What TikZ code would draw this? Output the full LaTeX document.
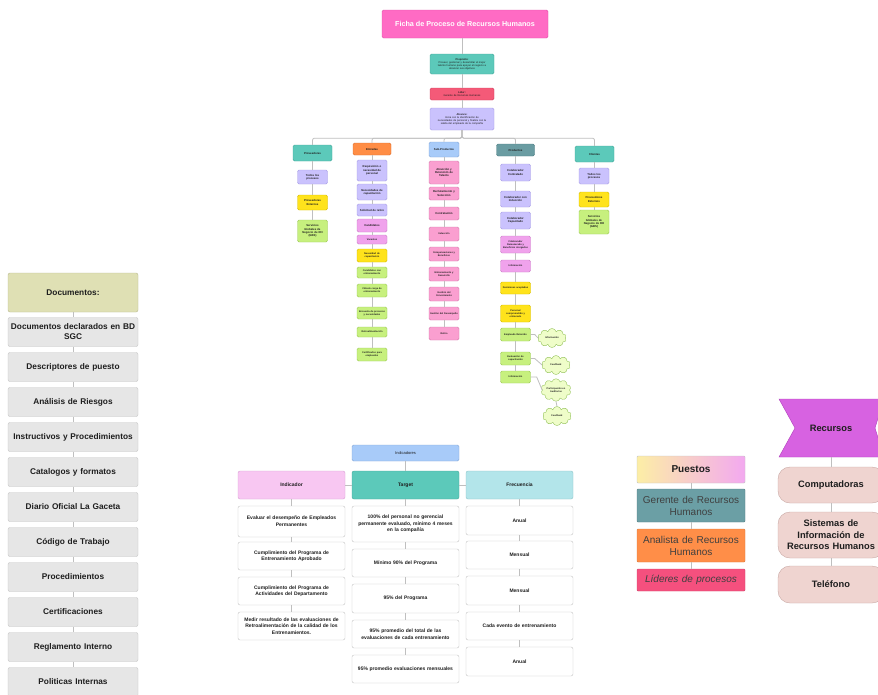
\documentclass[tikz,border=0pt]{standalone}
\usepackage{fontspec}
\setmainfont{Liberation Sans}
\usetikzlibrary{shapes.symbols}
\definecolor{lineg}{HTML}{BFBFBF}
\definecolor{cteal}{HTML}{5CC9BA}\definecolor{ctealD}{HTML}{45A99B}
\definecolor{cpink}{HTML}{FF6BC4}\definecolor{cpinkD}{HTML}{E050A8}
\definecolor{cred}{HTML}{F45A78}\definecolor{credD}{HTML}{D04060}
\definecolor{clav}{HTML}{CAC2FD}\definecolor{clavD}{HTML}{A89EE6}
\definecolor{cyel}{HTML}{FFE31C}\definecolor{cyelD}{HTML}{D6BC00}
\definecolor{cgrn}{HTML}{C7F07E}\definecolor{cgrnD}{HTML}{9DC957}
\definecolor{cvio}{HTML}{F0A2EC}\definecolor{cvioD}{HTML}{CC80C8}
\definecolor{cpnk}{HTML}{FA9FD0}\definecolor{cpnkD}{HTML}{D67CAE}
\definecolor{corg}{HTML}{FF8D45}\definecolor{corgD}{HTML}{DD7030}
\definecolor{clblue}{HTML}{A8CBF9}\definecolor{clblueD}{HTML}{85A8D8}
\definecolor{cslate}{HTML}{6A9CA2}\definecolor{cslateD}{HTML}{4F7F85}
\definecolor{colive}{HTML}{DFE0B4}\definecolor{coliveD}{HTML}{B9BA90}
\definecolor{cdoc}{HTML}{E6E6E6}\definecolor{cdocD}{HTML}{C4C4C4}
\definecolor{cphead}{HTML}{F8C7F2}\definecolor{cpheadD}{HTML}{D8A0D4}
\definecolor{ccyan}{HTML}{B3E5EA}\definecolor{ccyanD}{HTML}{8EC5CA}
\definecolor{cger}{HTML}{6B9FA5}
\definecolor{cana}{HTML}{FF8E48}
\definecolor{clid}{HTML}{F5507E}
\definecolor{crec}{HTML}{D762E1}\definecolor{crecD}{HTML}{B040BC}
\definecolor{crbox}{HTML}{EFD4D0}\definecolor{crboxD}{HTML}{C9A9A5}
\definecolor{ccloud}{HTML}{EFFDC9}\definecolor{ccloudD}{HTML}{96C45E}
\definecolor{cpl}{HTML}{FCEEA6}\definecolor{cpr}{HTML}{F3A9F0}
\definecolor{ctxt}{HTML}{1E1E1E}
\newcommand\fsz[2]{\fontsize{#1}{#2}\selectfont}
\begin{document}
\begin{tikzpicture}[x=1pt,y=-1pt,
  conn/.style={draw=lineg, line width=0.8pt},
  bx/.style={rounded corners=1.5pt, line width=0.4pt, align=center, inner sep=0.5pt, text=ctxt},
  tiny/.style={bx, font=\fsz{2.8}{3.3}\bfseries, minimum width=30pt, text width=28pt},
  teal/.style={fill=cteal, draw=ctealD},
  lav/.style={fill=clav, draw=clavD},
  yel/.style={fill=cyel, draw=cyelD},
  grn/.style={fill=cgrn, draw=cgrnD},
  vio/.style={fill=cvio, draw=cvioD},
  pnk/.style={fill=cpnk, draw=cpnkD},
  cld/.style={cloud, cloud puffs=10, aspect=1.6, fill=ccloud, draw=ccloudD, line width=0.4pt, align=center, inner sep=0.3pt, minimum width=29pt, minimum height=19pt, font=\fsz{2.4}{2.9}\bfseries, text=ctxt},
  doc/.style={bx, rounded corners=2pt, fill=cdoc, draw=cdocD, minimum width=130pt, text width=126pt, minimum height=29pt, font=\fsz{8.3}{10}\bfseries},
  ind/.style={bx, rounded corners=2pt, fill=white, draw=cdocD, minimum width=107pt, text width=101pt, font=\fsz{5}{6.6}\bfseries},
  pst/.style={bx, rounded corners=1pt, minimum width=108pt, text width=104pt, font=\fsz{10}{12}, text=ctxt!85},
  rbx/.style={bx, rounded corners=12pt, fill=crbox, draw=crboxD, minimum width=106pt, text width=104pt, font=\fsz{9.3}{11.5}\bfseries}
]
\useasboundingbox (0,0) rectangle (878,694);
\clip (0,0) rectangle (878,694);
\fill[white] (0,0) rectangle (878,694);

% ---------- trunk ----------
\node[bx, fill=cpink, draw=cpinkD, minimum width=166pt, minimum height=28pt, font=\fsz{7.2}{8.6}\bfseries, text=white] (title) at (465,24) {Ficha de Proceso de Recursos Humanos};
\node[bx, teal, minimum width=64pt, minimum height=20pt, text width=62pt, font=\fsz{2.6}{3.1}] (prop) at (462,64) {\textbf{Propósito:}\\Proveer, gestionar y desarrollar el mejor\\talento humano para apoyar el negocio a\\alcanzar sus objetivos};
\node[bx, fill=cred, draw=credD, minimum width=64pt, minimum height=12pt, text width=62pt, font=\fsz{2.6}{3.1}] (lider) at (462,94) {\textbf{Líder:}\\Gerente de Recursos Humanos};
\node[bx, lav, minimum width=64pt, minimum height=22pt, text width=62pt, font=\fsz{2.6}{3.1}] (alc) at (462,119) {\textbf{Alcance:}\\Inicia con la identificación de\\necesidades de personal y finaliza con la\\salida del empleado de la compañía};
\draw[conn] (prop.north |- title.south) -- (prop.north);
\draw[conn] (prop) -- (lider);
\draw[conn] (lider) -- (alc);

% ---------- column headers ----------
\node[tiny, teal, minimum width=39pt, minimum height=16pt] (prov) at (312.5,153) {Proveedores};
\node[tiny, fill=corg, draw=corgD, minimum width=38pt, minimum height=12pt] (ent) at (372,149) {Entradas};
\node[tiny, fill=clblue, draw=clblueD, minimum width=30pt, minimum height=15pt] (sub) at (444,149.5) {Sub-Productos};
\node[tiny, fill=cslate, draw=cslateD, minimum width=38pt, minimum height=12pt] (prod) at (515.5,150) {Productos};
\node[tiny, teal, minimum width=39pt, minimum height=16pt] (cli) at (594.5,154) {Clientes};
\foreach \h in {prov,ent,sub,prod,cli}
  \draw[conn, rounded corners=2pt] (alc.south) -- ++(0,8) -| (\h.north);

% ---------- Proveedores ----------
\node[tiny, lav, minimum height=14pt] (p1) at (312.5,177) {Todos los\\procesos};
\node[tiny, yel, minimum height=15pt] (p2) at (312.5,202.5) {Proveedores\\Externos};
\node[tiny, grn, minimum height=22pt] (p3) at (312.5,231) {Servicios\\Globales de\\Negocio de RH\\(GBS)};
\foreach \a/\b in {prov/p1,p1/p2,p2/p3} \draw[conn] (\a.south) -- (\b.north);

% ---------- Entradas ----------
\node[tiny, lav, minimum height=21pt] (e1) at (372,170.5) {Requisición o\\necesidad de\\personal};
\node[tiny, lav, minimum height=16pt] (e2) at (372,192) {Necesidades de\\capacitación};
\node[tiny, lav, minimum height=12pt] (e3) at (372,210) {Solicitud de retiro};
\node[tiny, vio, minimum height=13pt] (e4) at (372,225.5) {Candidatos};
\node[tiny, vio, minimum height=9pt, font=\fsz{2.4}{2.9}\bfseries] (e5) at (372,239.5) {Vacantes};
\node[tiny, yel, minimum height=13pt, font=\fsz{2.4}{2.9}\bfseries] (e6) at (372,255.5) {Necesidad de\\capacitación};
\node[tiny, grn, minimum height=11pt, font=\fsz{2.4}{2.9}\bfseries] (e7) at (372,272.5) {Candidatos con\\entrenamiento};
\node[tiny, grn, minimum height=13pt, font=\fsz{2.4}{2.9}\bfseries] (e8) at (372,290.5) {Cálculo carga de\\entrenamiento};
\node[tiny, grn, minimum height=12pt, font=\fsz{2.4}{2.9}\bfseries] (e9) at (372,313) {Encuesta de procesos\\y necesidades};
\node[tiny, grn, minimum height=10pt, font=\fsz{2.4}{2.9}\bfseries] (e10) at (372,332) {Retroalimentación};
\node[tiny, grn, minimum height=13pt, font=\fsz{2.4}{2.9}\bfseries] (e11) at (372,354.5) {Certificados para\\empleados};
\foreach \a/\b in {ent/e1,e1/e2,e2/e3,e3/e4,e4/e5,e5/e6,e6/e7,e7/e8,e8/e9,e9/e10,e10/e11} \draw[conn] (\a.south) -- (\b.north);

% ---------- Sub-Productos ----------
\node[tiny, pnk, minimum height=23pt] (s1) at (444,172.5) {Atracción y\\Retención de\\Talento};
\node[tiny, pnk, minimum height=13pt] (s2) at (444,193.5) {Reclutamiento y\\Selección};
\node[tiny, pnk, minimum height=13pt] (s3) at (444,213.5) {Contratación};
\node[tiny, pnk, minimum height=14pt, font=\fsz{2.4}{2.9}\bfseries] (s4) at (444,234) {Inducción};
\node[tiny, pnk, minimum height=14pt, font=\fsz{2.4}{2.9}\bfseries] (s5) at (444,254) {Compensaciones y\\Beneficios};
\node[tiny, pnk, minimum height=14pt, font=\fsz{2.4}{2.9}\bfseries] (s6) at (444,274) {Entrenamiento y\\Desarrollo};
\node[tiny, pnk, minimum height=14pt, font=\fsz{2.4}{2.9}\bfseries] (s7) at (444,294) {Gestión del\\Conocimiento};
\node[tiny, pnk, minimum height=13pt, font=\fsz{2.4}{2.9}\bfseries] (s8) at (444,313.5) {Gestión del Desempeño};
\node[tiny, pnk, minimum height=13pt, font=\fsz{2.4}{2.9}\bfseries] (s9) at (444,333.5) {Retiro};
\foreach \a/\b in {sub/s1,s1/s2,s2/s3,s3/s4,s4/s5,s5/s6,s6/s7,s7/s8,s8/s9} \draw[conn] (\a.south) -- (\b.north);

% ---------- Productos ----------
\node[tiny, lav, minimum height=17pt] (d1) at (515.5,172.5) {Colaborador\\Contratado};
\node[tiny, lav, minimum height=16pt] (d2) at (515.5,199) {Colaborador con\\Inducción};
\node[tiny, lav, minimum height=17pt] (d3) at (515.5,220.5) {Colaborador\\Capacitado};
\node[tiny, vio, minimum height=17pt, font=\fsz{2.4}{2.9}\bfseries] (d4) at (515.5,244.5) {Colaborador\\Remunerado y\\Beneficios otorgados};
\node[tiny, vio, minimum height=12pt, font=\fsz{2.4}{2.9}\bfseries] (d5) at (515.5,266) {Información};
\node[tiny, yel, minimum height=12pt, font=\fsz{2.4}{2.9}\bfseries] (d6) at (515.5,288) {Decisiones aceptadas};
\node[tiny, yel, minimum height=17pt, font=\fsz{2.4}{2.9}\bfseries] (d7) at (515.5,313.5) {Personal\\comprometido y\\entrenado};
\node[tiny, grn, minimum height=13pt, font=\fsz{2.4}{2.9}\bfseries] (d8) at (515.5,334.5) {Empleado Retenido};
\node[tiny, grn, minimum height=13pt, font=\fsz{2.4}{2.9}\bfseries] (d9) at (515.5,358.5) {Evaluación de\\capacitación};
\node[tiny, grn, minimum height=12pt, font=\fsz{2.4}{2.9}\bfseries] (d10) at (515.5,377) {Información};
\foreach \a/\b in {d1/d2,d2/d3,d3/d4,d4/d5,d5/d6,d6/d7,d7/d8,d8/d9,d9/d10} \draw[conn] (\a.south) -- (\b.north);
\draw[conn] (d1.north |- prod.south) -- (d1.north);
\node[cld] (c1) at (552,338) {Información};
\node[cld] (c2) at (556,365) {Feedback};
\node[cld] (c3) at (556,390) {Participación en\\Auditorías};
\node[cld] (c4) at (557,416) {Feedback};
\draw[conn] (d8.east) -- ++(4,0) -- (c1.west);
\draw[conn] (d9.east) -- ++(4,0) -- (c2.west);
\draw[conn] (d10.east) -- ++(6,0) -- (c3.west);
\draw[conn] (c3.south) -- (c4.north);

% ---------- Clientes ----------
\node[tiny, lav, minimum height=16pt] (k1) at (594,176) {Todos los\\procesos};
\node[tiny, yel, minimum height=15pt] (k2) at (594,199.5) {Proveedores\\Externos};
\node[tiny, grn, minimum height=24pt] (k3) at (594,222) {Servicios\\Globales de\\Negocio de RH\\(GBS)};
\draw[conn] (k1.north |- cli.south) -- (k1.north);
\foreach \a/\b in {k1/k2,k2/k3} \draw[conn] (\a.south) -- (\b.north);

% ---------- Documentos ----------
\node[doc, fill=colive, draw=coliveD, minimum height=39pt] (dh) at (73,292.5) {Documentos:};
\node[doc] (doc0) at (73,332) {Documentos declarados en BD\\SGC};
\node[doc] (doc1) at (73,367) {Descriptores de puesto};
\node[doc] (doc2) at (73,402) {Análisis de Riesgos};
\node[doc] (doc3) at (73,437) {Instructivos y Procedimientos};
\node[doc] (doc4) at (73,472) {Catalogos y formatos};
\node[doc] (doc5) at (73,507) {Diario Oficial La Gaceta};
\node[doc] (doc6) at (73,542) {Código de Trabajo};
\node[doc] (doc7) at (73,577) {Procedimientos};
\node[doc] (doc8) at (73,612) {Certificaciones};
\node[doc] (doc9) at (73,647) {Reglamento Interno};
\node[doc] (doc10) at (73,682) {Politicas Internas};
\foreach \a/\b in {dh/doc0,doc0/doc1,doc1/doc2,doc2/doc3,doc3/doc4,doc4/doc5,doc5/doc6,doc6/doc7,doc7/doc8,doc8/doc9,doc9/doc10} \draw[conn] (\a.south) -- (\b.north);

% ---------- Indicadores ----------
\node[bx, fill=clblue, draw=clblueD, minimum width=107pt, minimum height=16pt, font=\fsz{4}{5}] (indh) at (405.5,453) {Indicadores};
\node[ind, fill=cphead, draw=cpheadD, minimum height=28pt] (hi) at (291.5,485) {Indicador};
\node[ind, teal, minimum height=28pt] (ht) at (405.5,485) {Target};
\node[ind, fill=ccyan, draw=ccyanD, minimum height=28pt] (hf) at (519.5,485) {Frecuencia};
\draw[conn] (indh) -- (ht);
\draw[conn] (hi) -- (ht);
\draw[conn] (ht) -- (hf);
\node[ind, minimum height=31pt] (r1) at (291.5,521.5) {Evaluar el desempeño de Empleados\\Permanentes\\[4pt]};
\node[ind, minimum height=28pt] (r2) at (291.5,556) {Cumplimiento del Programa de\\Entrenamiento Aprobado};
\node[ind, minimum height=28pt] (r3) at (291.5,591) {Cumplimiento del Programa de\\Actividades del Departamento};
\node[ind, minimum height=28pt] (r4) at (291.5,626) {Medir resultado de las evaluaciones de\\Retroalimentación de la calidad de los\\Entrenamientos.};
\node[ind, minimum height=36pt] (t1) at (405.5,524) {100\% del personal no gerencial\\permanente evaluado, mínimo 4 meses\\en la compañía};
\node[ind, minimum height=28pt] (t2) at (405.5,563) {Mínimo 90\% del Programa};
\node[ind, minimum height=29pt] (t3) at (405.5,598.5) {95\% del Programa};
\node[ind, minimum height=28pt] (t4) at (405.5,634) {95\% promedio del total de las\\evaluaciones de cada entrenamiento};
\node[ind, minimum height=28pt] (t5) at (405.5,669) {95\% promedio evaluaciones mensuales};
\node[ind, minimum height=29pt] (f1) at (519.5,520.5) {Anual};
\node[ind, minimum height=28pt] (f2) at (519.5,555) {Mensual};
\node[ind, minimum height=29pt] (f3) at (519.5,590.5) {Mensual};
\node[ind, minimum height=28pt] (f4) at (519.5,626) {Cada evento de entrenamiento\\[5pt]};
\node[ind, minimum height=29pt] (f5) at (519.5,661.5) {Anual};
\foreach \a/\b in {hi/r1,r1/r2,r2/r3,r3/r4,ht/t1,t1/t2,t2/t3,t3/t4,t4/t5,hf/f1,f1/f2,f2/f3,f3/f4,f4/f5} \draw[conn] (\a.south) -- (\b.north);

% ---------- Puestos ----------
\node[pst, left color=cpl, right color=cpr, draw=cdocD, minimum height=27pt, font=\fsz{10}{12}\bfseries, text=ctxt] (pu) at (691,469.5) {Puestos};
\node[pst, fill=cger, draw=cger!80!black, minimum height=33pt] (pu1) at (691,505.5) {Gerente de Recursos\\Humanos};
\node[pst, fill=cana, draw=cana!85!black, minimum height=33pt] (pu2) at (691,545.5) {Analista de Recursos\\Humanos};
\node[pst, fill=clid, draw=clid!85!black, minimum height=22pt, font=\fsz{10}{12}\itshape] (pu3) at (691,580) {Líderes de procesos};
\foreach \a/\b in {pu/pu1,pu1/pu2,pu2/pu3} \draw[conn] (\a.south) -- (\b.north);

% ---------- Recursos ----------
\filldraw[fill=crec, draw=crecD, line width=0.4pt] (779,399) -- (884,399) -- (875,428) -- (884,457) -- (779,457) -- (795,428) -- cycle;
\node[font=\fsz{9.3}{11}\bfseries, text=ctxt] (rec) at (831,428) {Recursos};
\coordinate (recb) at (831,457);
\node[rbx, minimum height=36pt] (ra) at (831,485) {Computadoras};
\node[rbx, minimum height=46pt] (rb) at (831,535) {Sistemas de\\Información de\\Recursos Humanos};
\node[rbx, minimum height=37pt] (rc) at (831,584.5) {Teléfono};
\draw[conn] (recb) -- (ra.north);
\draw[conn] (ra) -- (rb);
\draw[conn] (rb) -- (rc);
\end{tikzpicture}
\end{document}
